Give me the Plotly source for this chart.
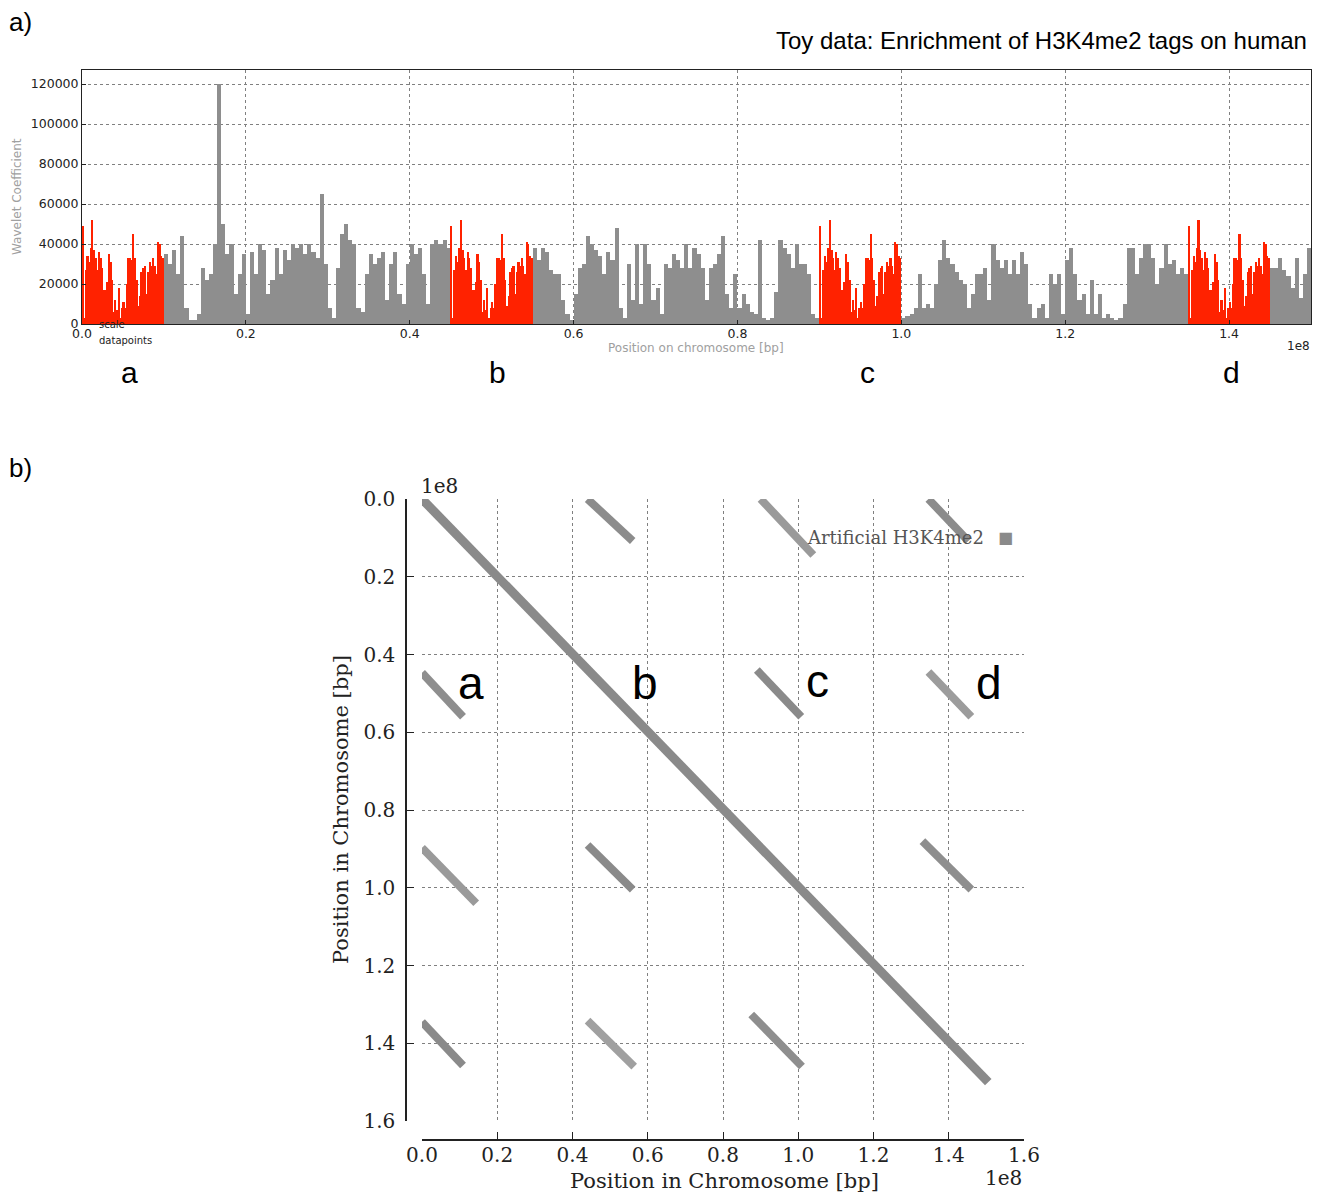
import numpy as np
import plotly.graph_objects as go

# the page body keeps an 8 px margin, so the figure is drawn 8 px in from the window corner
OFF = 8
W, H = 1322 - OFF, 1195 - OFF

# ---------------- Panel a data (wavelet coefficient, in thousands) ----------------
# enriched (red) pattern, 0.2 Mb bins, repeated in the four regions a-d
red_pattern = [49, 3, 27, 34, 31, 38, 52, 37, 33, 27,
               36, 33, 28, 17, 17, 21, 35, 31, 22, 6,
               12, 7, 18, 3, 8, 11, 8, 20, 33, 33,
               32, 45, 33, 22, 9, 14, 26, 28, 29, 15,
               26, 31, 29, 33, 29, 25, 41, 40, 34, 33]
red_starts_mb = [0, 45, 90, 135]
red_bin_mb = 0.2

# background (gray) signal, 0.5 Mb bins
gray_10_45 = [35, 30, 37, 25, 44, 8, 2, 2, 5, 28,
              22, 25, 40, 120, 50, 35, 40, 15, 25, 35,
              5, 36, 25, 40, 37, 15, 22, 38, 25, 37,
              32, 40, 38, 40, 35, 40, 36, 33, 65, 30,
              8, 3, 28, 45, 50, 42, 40, 8, 6, 25,
              35, 30, 33, 36, 12, 30, 36, 15, 10, 30,
              40, 35, 38, 25, 10, 40, 42, 40, 42, 38]
gray_55_90 = [38, 32, 38, 36, 27, 25, 25, 12, 5, 2,
              15, 28, 30, 44, 40, 37, 34, 25, 36, 32,
              48, 8, 3, 30, 12, 40, 10, 40, 30, 12,
              18, 5, 30, 28, 35, 32, 28, 40, 28, 38,
              35, 28, 12, 28, 30, 35, 44, 15, 8, 25,
              8, 15, 10, 6, 5, 42, 3, 2, 3, 16,
              42, 38, 35, 28, 40, 30, 30, 25, 5, 3]
gray_100_135 = [3, 4, 5, 8, 25, 8, 10, 8, 20, 32,
                42, 33, 30, 26, 22, 20, 8, 15, 25, 25,
                28, 12, 40, 32, 28, 32, 25, 32, 25, 36,
                30, 10, 3, 8, 10, 3, 25, 20, 25, 5,
                32, 38, 25, 12, 15, 5, 22, 5, 15, 3,
                5, 3, 2, 3, 10, 38, 38, 25, 33, 40,
                40, 33, 20, 28, 40, 30, 32, 25, 28, 25]
gray_145_150 = [28, 28, 33, 27, 24, 18, 33, 13, 25, 38]
gray_starts_mb = [10, 55, 100, 145]
gray_regions = [gray_10_45, gray_55_90, gray_100_135, gray_145_150]
gray_bin_mb = 0.5

xa_tick_vals = [0.0, 0.2, 0.4, 0.6, 0.8, 1.0, 1.2, 1.4]   # x 1e8
xa_tick_text = ["0.0", "0.2", "0.4", "0.6", "0.8", "1.0", "1.2", "1.4"]
ya_tick_vals = [0, 20000, 40000, 60000, 80000, 100000, 120000]
ya_tick_text = ["0", "20000", "40000", "60000", "80000", "100000", "120000"]
region_labels = ["a", "b", "c", "d"]

# ---------------- Panel b data (dot plot segments, in 1e8 bp) ----------------
seg_x0 = [0.0, 0.44, 0.90, 1.346, 0.0, 0.89, 1.346, 0.0, 0.44, 1.33, 0.0, 0.44, 0.875]
seg_x1 = [1.505, 0.56, 1.04, 1.452, 0.109, 1.008, 1.46, 0.144, 0.56, 1.46, 0.109, 0.564, 1.01]
seg_y0 = [0.0, 0.0, 0.0, 0.0, 0.447, 0.44, 0.445, 0.897, 0.89, 0.88, 1.345, 1.342, 1.326]
seg_y1 = [1.50, 0.108, 0.144, 0.108, 0.56, 0.56, 0.56, 1.04, 1.005, 1.005, 1.457, 1.46, 1.46]
seg_color = ["#8a8a8a", "#8c8c8c", "#9a9a9a", "#8c8c8c", "#8e8e8e", "#8a8a8a", "#9c9c9c",
             "#9a9a9a", "#8a8a8a", "#8e8e8e", "#8a8a8a", "#a0a0a0", "#8e8e8e"]
seg_width = [9, 8, 8, 8, 8, 8, 8, 8, 8, 8, 8, 8, 8]
xb_tick_vals = [0.0, 0.2, 0.4, 0.6, 0.8, 1.0, 1.2, 1.4, 1.6]
xb_tick_text = ["0.0", "0.2", "0.4", "0.6", "0.8", "1.0", "1.2", "1.4", "1.6"]
legend_label = "Artificial H3K4me2"


def px(x):
    return (x - OFF) / W


def py(y):
    return 1 - (y - OFF) / H


fig = go.Figure()

# gray background bars
gx, gy = [], []
for start, vals in zip(gray_starts_mb, gray_regions):
    centers = (start + gray_bin_mb * (np.arange(len(vals)) + 0.5)) * 1e6
    gx.extend(centers.tolist())
    gy.extend([v * 1000 for v in vals])
fig.add_trace(go.Bar(x=gx, y=gy, width=gray_bin_mb * 1e6, marker=dict(color="#8e8e8e", line=dict(width=0)),
                     xaxis="x", yaxis="y", showlegend=False, hoverinfo="skip"))

# red enriched bars
rx, ry = [], []
for start in red_starts_mb:
    centers = (start + red_bin_mb * (np.arange(len(red_pattern)) + 0.5)) * 1e6
    rx.extend(centers.tolist())
    ry.extend([v * 1000 for v in red_pattern])
fig.add_trace(go.Bar(x=rx, y=ry, width=red_bin_mb * 1e6, marker=dict(color="#ff2200", line=dict(width=0)),
                     xaxis="x", yaxis="y", showlegend=False, hoverinfo="skip"))

# panel b segments
for x0, x1, y0, y1, c, w in zip(seg_x0, seg_x1, seg_y0, seg_y1, seg_color, seg_width):
    fig.add_trace(go.Scatter(x=[x0 * 1e8, x1 * 1e8], y=[y0 * 1e8, y1 * 1e8], mode="lines",
                             line=dict(color=c, width=w), xaxis="x2", yaxis="y2",
                             showlegend=False, hoverinfo="skip"))

sans = "DejaVu Sans"
serif = "DejaVu Serif"
grid = dict(showgrid=True, gridcolor="#808080", griddash="dot", gridwidth=1, zeroline=False,
            automargin=False)

fig.update_layout(
    template="none",
    width=W, height=H, autosize=False,
    margin=dict(l=0, r=0, t=0, b=0, pad=0),
    paper_bgcolor="white", plot_bgcolor="white",
    bargap=0, barmode="overlay", showlegend=False,
    xaxis=dict(domain=[px(82), px(1311)], range=[0, 1.5e8], anchor="y",
               tickvals=[v * 1e8 for v in xa_tick_vals], ticktext=xa_tick_text,
               tickfont=dict(family=sans, size=12.5, color="#222"),
               ticks="inside", ticklen=4, tickcolor="#222", ticklabelstandoff=-2,
               showline=True, mirror=True, linecolor="#222", linewidth=1, **grid),
    yaxis=dict(domain=[py(324), py(70)], range=[0, 127000], anchor="x",
               tickvals=ya_tick_vals, ticktext=ya_tick_text,
               tickfont=dict(family=sans, size=12.5, color="#222"),
               ticks="inside", ticklen=4, tickcolor="#222",
               showline=True, mirror=True, linecolor="#222", linewidth=1, **grid),
    xaxis2=dict(domain=[px(422), px(1024)], range=[0, 1.6e8], anchor="free", position=py(1140),
                tickvals=[v * 1e8 for v in xb_tick_vals], ticktext=xb_tick_text,
                tickfont=dict(family=serif, size=20, color="#222"),
                ticks="inside", ticklen=7, tickcolor="#222", tickwidth=1.2, ticklabelstandoff=-3,
                showline=True, linecolor="#222", linewidth=1.5, **grid),
    yaxis2=dict(domain=[py(1121), py(499)], range=[1.6e8, 0], anchor="free", position=px(406),
                tickvals=[v * 1e8 for v in xb_tick_vals], ticktext=xb_tick_text,
                tickfont=dict(family=serif, size=20, color="#222"),
                ticks="inside", ticklen=7, tickcolor="#222", tickwidth=1.2, ticklabelstandoff=6,
                showline=True, linecolor="#222", linewidth=1.5, **grid),
)

ann = []
# panel letters and title
ann.append(dict(text="a)", x=px(7), y=py(22), xanchor="left", yanchor="middle",
                font=dict(family="Liberation Sans", size=26, color="black")))
ann.append(dict(text="b)", x=px(7), y=py(468), xanchor="left", yanchor="middle",
                font=dict(family="Liberation Sans", size=26, color="black")))
ann.append(dict(text="Toy data: Enrichment of H3K4me2 tags on human", x=px(1309), y=py(40),
                xanchor="right", yanchor="middle",
                font=dict(family="Liberation Sans", size=24, color="black")))
# panel a axis texts
ann.append(dict(text="Wavelet Coefficient", x=px(17), y=py(197), xanchor="center", yanchor="middle",
                textangle=-90, font=dict(family=sans, size=12, color="#a0a0a0")))
ann.append(dict(text="Position on chromosome [bp]", x=px(696), y=py(348), xanchor="center",
                yanchor="middle", font=dict(family=sans, size=12, color="#a0a0a0")))
ann.append(dict(text="1e8", x=px(1312), y=py(346), xanchor="right", yanchor="middle",
                font=dict(family=sans, size=12, color="#222")))
ann.append(dict(text="scale", x=px(97), y=py(324), xanchor="left", yanchor="middle",
                font=dict(family=sans, size=10, color="#222")))
ann.append(dict(text="datapoints", x=px(97), y=py(340), xanchor="left", yanchor="middle",
                font=dict(family=sans, size=10, color="#222")))
for lab, xx in zip(region_labels, [129, 497, 867, 1231]):
    ann.append(dict(text=lab, x=px(xx), y=py(372), xanchor="center", yanchor="middle",
                    font=dict(family="Liberation Sans", size=30, color="black")))
# panel b texts
for lab, xx, yy in zip(region_labels, [471, 645, 817, 989], [683, 683, 681, 683]):
    ann.append(dict(text=lab, x=px(xx), y=py(yy), xanchor="center", yanchor="middle",
                    font=dict(family="Liberation Sans", size=46, color="black")))
ann.append(dict(text="1e8", x=px(419), y=py(486), xanchor="left", yanchor="middle",
                font=dict(family=serif, size=20, color="#222")))
ann.append(dict(text="1e8", x=px(1024), y=py(1178), xanchor="right", yanchor="middle",
                font=dict(family=serif, size=20, color="#222")))
ann.append(dict(text="Position in Chromosome [bp]", x=px(724), y=py(1181), xanchor="center",
                yanchor="middle", font=dict(family=serif, size=21, color="#222")))
ann.append(dict(text="Position in Chromosome [bp]", x=px(341), y=py(810), xanchor="center",
                yanchor="middle", textangle=-90, font=dict(family=serif, size=21, color="#222")))
ann.append(dict(text=legend_label, x=px(986), y=py(538), xanchor="right", yanchor="middle",
                font=dict(family=serif, size=18, color="#555")))
ann.append(dict(text="■", x=px(1005), y=py(538), xanchor="center", yanchor="middle",
                font=dict(family="DejaVu Sans", size=16, color="#8a8a8a")))

for a in ann:
    a.update(xref="paper", yref="paper", showarrow=False)
fig.update_layout(annotations=ann)

fig.write_html("out.html")
